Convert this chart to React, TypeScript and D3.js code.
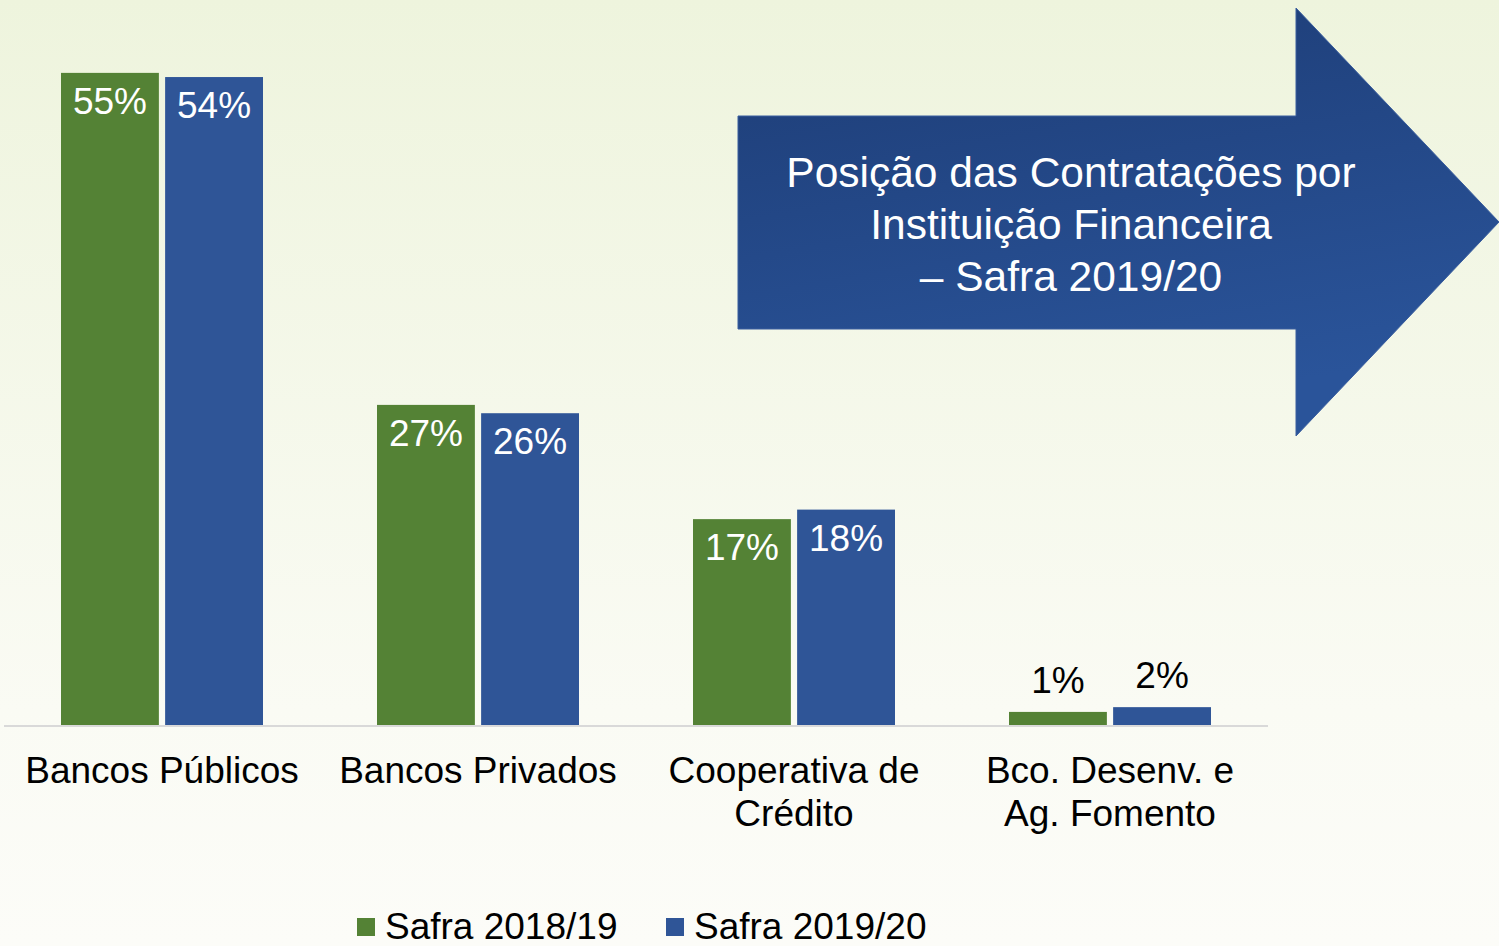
import React, { useEffect, useRef } from 'react';
import * as d3 from 'd3';

// data
const categories = ['Bancos Públicos', 'Bancos Privados', 'Cooperativa de Crédito', 'Bco. Desenv. e Ag. Fomento'];
const categoryLines = [['Bancos Públicos'], ['Bancos Privados'], ['Cooperativa de', 'Crédito'], ['Bco. Desenv. e', 'Ag. Fomento']];
const seriesNames = ['Safra 2018/19', 'Safra 2019/20'];
const safra1819 = [54.8, 26.9, 17.3, 1.1];
const safra1920 = [54.45, 26.2, 18.1, 1.5];
const labels1819 = ['55%', '27%', '17%', '1%'];
const labels1920 = ['54%', '26%', '18%', '2%'];
const colors = ['#548235', '#2F5597'];
const titleLines = ['Posição das Contratações por', 'Instituição Financeira', '– Safra 2019/20'];

const W = 1499;
const H = 946;

const App = () => {
  const ref = useRef<SVGSVGElement | null>(null);

  useEffect(() => {
    document.body.style.margin = '0';
    const svg = d3.select(ref.current);
    svg.selectAll('*').remove();

    const defs = svg.append('defs');
    const bg = defs.append('linearGradient').attr('id', 'bg').attr('x1', 0).attr('y1', 0).attr('x2', 0).attr('y2', 1);
    bg.append('stop').attr('offset', '0%').attr('stop-color', '#EEF4DD');
    bg.append('stop').attr('offset', '75%').attr('stop-color', '#FAFBF4');
    bg.append('stop').attr('offset', '100%').attr('stop-color', '#FCFCF8');
    const ag = defs.append('linearGradient').attr('id', 'arrowGrad').attr('x1', 0).attr('y1', 0).attr('x2', 0.3).attr('y2', 1);
    ag.append('stop').attr('offset', '0%').attr('stop-color', '#1D3C75');
    ag.append('stop').attr('offset', '100%').attr('stop-color', '#2A549A');

    svg.append('rect').attr('width', W).attr('height', H).attr('fill', 'url(#bg)');

    const font = '"Liberation Sans", Arial, sans-serif';
    const baseY = 725;

    const x0 = d3.scaleBand().domain(categories).range([4, 1268]);
    const x1 = d3.scaleBand().domain(seriesNames).range([57, 259]).paddingInner(0.06);
    const y = d3.scaleLinear().domain([0, 60]).range([baseY, baseY - 60 * 11.9]);

    const rows = categories.map((c, i) => ({
      cat: c,
      vals: [
        { s: seriesNames[0], v: safra1819[i], lab: labels1819[i] },
        { s: seriesNames[1], v: safra1920[i], lab: labels1920[i] },
      ],
    }));

    const groups = svg.selectAll('.grp').data(rows).enter().append('g')
      .attr('transform', d => 'translate(' + x0(d.cat) + ',0)');

    groups.selectAll('rect').data(d => d.vals).enter().append('rect')
      .attr('x', d => x1(d.s)!)
      .attr('y', d => y(d.v))
      .attr('width', x1.bandwidth())
      .attr('height', d => baseY - y(d.v))
      .attr('fill', (d, i) => colors[i]);

    groups.selectAll('text.val').data(d => d.vals).enter().append('text')
      .attr('class', 'val')
      .attr('x', d => x1(d.s)! + x1.bandwidth() / 2)
      .attr('y', d => (d.v > 5 ? y(d.v) + 41 : y(d.v) - 19))
      .attr('text-anchor', 'middle')
      .attr('font-family', font)
      .attr('font-size', 37)
      .attr('fill', d => (d.v > 5 ? '#FFFFFF' : '#000000'))
      .text(d => d.lab);

    // baseline
    svg.append('line').attr('x1', 4).attr('x2', 1268).attr('y1', baseY + 1).attr('y2', baseY + 1)
      .attr('stroke', '#D9D9D9').attr('stroke-width', 2);

    // category labels
    categories.forEach((c, i) => {
      const t = svg.append('text')
        .attr('x', x0(c)! + x0.bandwidth() / 2)
        .attr('y', 783)
        .attr('text-anchor', 'middle')
        .attr('font-family', font)
        .attr('font-size', 37)
        .attr('fill', '#000');
      categoryLines[i].forEach((line, j) => {
        t.append('tspan').attr('x', x0(c)! + x0.bandwidth() / 2).attr('dy', j === 0 ? 0 : 43).text(line);
      });
    });

    // legend
    const legendX = [357, 666];
    seriesNames.forEach((s, i) => {
      svg.append('rect').attr('x', legendX[i]).attr('y', 918).attr('width', 18).attr('height', 18).attr('fill', colors[i]);
      svg.append('text').attr('x', legendX[i] + 28).attr('y', 939)
        .attr('font-family', font).attr('font-size', 37).attr('fill', '#000').text(s);
    });

    // title arrow
    const p = d3.path();
    p.moveTo(738, 116);
    p.lineTo(1296, 116);
    p.lineTo(1296, 8);
    p.lineTo(1499, 222);
    p.lineTo(1296, 436);
    p.lineTo(1296, 329);
    p.lineTo(738, 329);
    p.closePath();
    svg.append('path').attr('d', p.toString()).attr('fill', 'url(#arrowGrad)')
      .attr('stroke', '#3A5E9E').attr('stroke-width', 1);

    svg.selectAll('.title').data(titleLines).enter().append('text')
      .attr('x', 1071)
      .attr('y', (d, i) => 187 + i * 52)
      .attr('text-anchor', 'middle')
      .attr('font-family', font)
      .attr('font-size', 42.5)
      .attr('fill', '#FFFFFF')
      .text(d => d);
  });

  return <svg ref={ref} width={W} height={H} style={{ display: 'block' }} />;
};

export default App;
